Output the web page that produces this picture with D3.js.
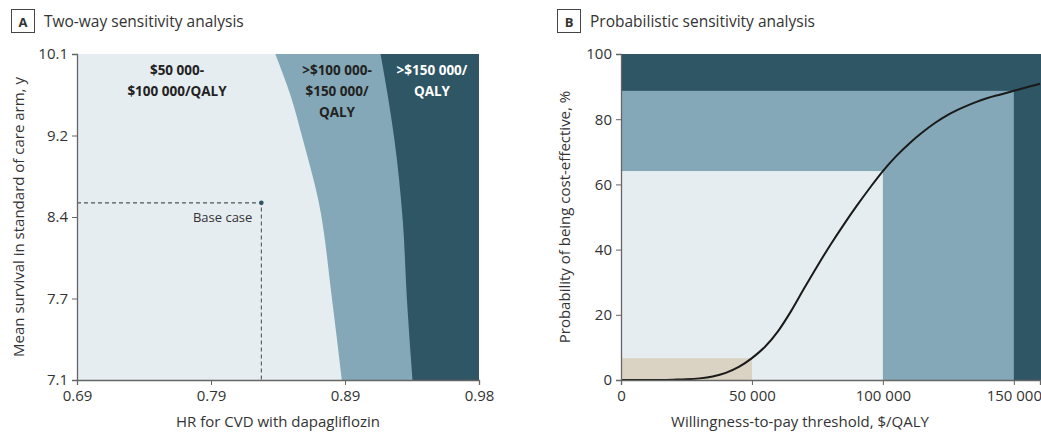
<!DOCTYPE html>
<html>
<head>
<meta charset="utf-8">
<script src="https://cdn.jsdelivr.net/npm/d3@7"></script>
<style>
  body { margin: 0; background: #fff; }
  svg text { font-family: "Open Sans", "Noto Sans", sans-serif; fill: #333; }
</style>
</head>
<body>
<svg id="chart" width="1041" height="432"></svg>
<script>

// ---------- Panel A data (two-way sensitivity) ----------
const hrTickLabels = ["0.69", "0.79", "0.89", "0.98"];
const survTickLabels = ["7.1", "7.7", "8.4", "9.2", "10.1"];
// boundary between $50k-$100k and >$100k-$150k regions (HR, survival)
const border100k = [
    [0.833, 10.1], [0.844, 9.72], [0.853, 9.31], [0.864, 8.76], [0.874, 7.84], [0.881, 7.1]
];
// boundary between >$100k-$150k and >$150k regions
const border150k = [
    [0.909, 10.1], [0.919, 9.31], [0.925, 8.57], [0.928, 7.84], [0.932, 7.1]
];
const baseCase = [0.823, 8.73];

// ---------- Panel B data (probabilistic sensitivity) ----------
const wtp = [0, 10000, 20000, 25000, 30000, 35000, 40000, 45000, 50000, 55000, 60000, 65000,
    70000, 75000, 80000, 85000, 90000, 95000, 100000, 105000, 110000, 115000, 120000,
    125000, 130000, 135000, 140000, 145000, 150000, 155000, 160000];
const probCE = [0, 0, 0.1, 0.2, 0.5, 1.1, 2.2, 4.0, 6.7, 10.2, 15.0, 21.2,
    28.2, 35.0, 41.5, 47.6, 53.4, 58.9, 64.1, 68.6, 72.5, 75.9, 78.9,
    81.4, 83.4, 85.1, 86.5, 87.6, 88.7, 89.8, 90.9];
const wtpTicks = [0, 50000, 100000, 150000];
const wtpTickLabels = ["0", "50 000", "100 000", "150 000"];
const probTicks = [0, 20, 40, 60, 80, 100];

const colLight = "#e6edf0",
    colMid = "#84a8b7",
    colDark = "#2e5665",
    colTan = "#dad3c3";

let svg = d3.select("#chart");

// panel header with boxed letter
function header(x, letter, title) {
    let g = svg.append("g");
    g.append("rect").attr("x", x + 0.5).attr("y", 9.5).attr("width", 23).attr("height", 23)
        .attr("fill", "#fff").attr("stroke", "#444").attr("stroke-width", 1);
    g.append("text").attr("x", x + 12).attr("y", 26.5).attr("text-anchor", "middle")
        .attr("font-size", 13).attr("font-weight", "bold").text(letter);
    g.append("text").attr("x", x + 33).attr("y", 27)
        .attr("font-size", 15.5).text(title);
}

function styleAxis(g) {
    g.selectAll(".domain").attr("stroke", "#666").attr("stroke-width", 1.3);
    g.selectAll(".tick line").attr("stroke", "#666");
    g.selectAll(".tick text").attr("font-size", 15).attr("fill", "#333")
        .style("font-family", "'Open Sans', sans-serif");
}

// ================= PANEL A =================
header(11, "A", "Two-way sensitivity analysis");

let xA = d3.scaleLinear().domain([0.69, 0.98]).range([77, 479]);
let yA = d3.scaleLinear().domain([7.1, 10.1]).range([380, 54]);

let gA = svg.append("g");

// full background = >$150 000 region
gA.append("rect")
    .attr("x", xA(0.69)).attr("y", yA(10.1))
    .attr("width", xA(0.98) - xA(0.69)).attr("height", yA(7.1) - yA(10.1))
    .attr("fill", colDark);

let curve = d3.line().x(d => xA(d[0])).y(d => yA(d[1])).curve(d3.curveMonotoneY);

// region left of a border, closed along the left axis
function leftOf(border) {
    return "M" + xA(0.69) + "," + yA(10.1) + curve(border).replace("M", "L") +
        "L" + xA(0.69) + "," + yA(7.1) + "Z";
}
gA.append("path").attr("d", leftOf(border150k)).attr("fill", colMid);
gA.append("path").attr("d", leftOf(border100k)).attr("fill", colLight);

// base case dashed guides
gA.append("path")
    .attr("d", "M" + xA(0.69) + "," + yA(baseCase[1]) + "H" + xA(baseCase[0]) + "V" + yA(7.1))
    .attr("fill", "none").attr("stroke", "#555").attr("stroke-width", 1.1)
    .attr("stroke-dasharray", "4,3");
gA.append("circle")
    .attr("cx", xA(baseCase[0])).attr("cy", yA(baseCase[1])).attr("r", 2.3)
    .attr("fill", colDark);
gA.append("text")
    .attr("x", xA(baseCase[0]) - 9).attr("y", yA(baseCase[1]) + 19)
    .attr("text-anchor", "end").attr("font-size", 13).text("Base case");

// region labels
function regionLabel(x, lines, color) {
    let t = gA.append("text").attr("text-anchor", "middle").attr("font-size", 13.5)
        .attr("font-weight", "bold").style("fill", color);
    lines.forEach((l, i) => {
        t.append("tspan").attr("x", x).attr("y", 75 + i * 21).text(l);
    });
}
regionLabel(177, ["$50 000-", "$100 000/QALY"], "#222");
regionLabel(337, [">$100 000-", "$150 000/", "QALY"], "#222");
regionLabel(432, [">$150 000/", "QALY"], "#fff");

// axes
let hrTicks = d3.range(4).map(i => 0.69 + i * (0.98 - 0.69) / 3);
gA.append("g").attr("transform", "translate(0,380)")
    .call(d3.axisBottom(xA).tickValues(hrTicks).tickSize(5).tickPadding(5)
        .tickFormat((d, i) => hrTickLabels[i]))
    .call(styleAxis);

let survTicks = d3.range(5).map(i => 7.1 + i * 3 / 4);
gA.append("g").attr("transform", "translate(77,0)")
    .call(d3.axisLeft(yA).tickValues(survTicks).tickSize(5).tickPadding(4)
        .tickFormat((d, i) => survTickLabels[i]))
    .call(styleAxis);

gA.append("text").attr("x", 278).attr("y", 427).attr("text-anchor", "middle")
    .attr("font-size", 15).text("HR for CVD with dapagliflozin");
gA.append("text").attr("transform", "translate(24,217) rotate(-90)")
    .attr("text-anchor", "middle").attr("font-size", 15)
    .text("Mean survival in standard of care arm, y");

// ================= PANEL B =================
header(557, "B", "Probabilistic sensitivity analysis");

let xB = d3.scaleLinear().domain([0, 160000]).range([621, 1040]);
let yB = d3.scaleLinear().domain([0, 100]).range([380, 54]);

let gB = svg.append("g");
let probAt = v => probCE[wtp.indexOf(v)];

// background = >$150 000
gB.append("rect")
    .attr("x", xB(0)).attr("y", yB(100))
    .attr("width", xB(160000) - xB(0) + 1).attr("height", yB(0) - yB(100))
    .attr("fill", colDark);

// nested threshold boxes, height = probability at threshold
[[150000, colMid], [100000, colLight], [50000, colTan]].forEach(([t, c]) => {
    gB.append("rect")
        .attr("x", xB(0)).attr("y", yB(probAt(t)))
        .attr("width", xB(t) - xB(0)).attr("height", yB(0) - yB(probAt(t)))
        .attr("fill", c);
});

// acceptability curve
gB.append("path")
    .datum(wtp.map((w, i) => [w, probCE[i]]))
    .attr("fill", "none").attr("stroke", "#1a1a1a").attr("stroke-width", 2)
    .attr("d", d3.line().x(d => xB(d[0])).y(d => yB(d[1])).curve(d3.curveMonotoneX));

gB.append("g").attr("transform", "translate(0,380)")
    .call(d3.axisBottom(xB).tickValues(wtpTicks).tickSize(5).tickPadding(5)
        .tickFormat((d, i) => wtpTickLabels[i]))
    .call(styleAxis);
gB.append("g").attr("transform", "translate(621,0)")
    .call(d3.axisLeft(yB).tickValues(probTicks).tickSize(5).tickPadding(4))
    .call(styleAxis);

gB.append("text").attr("x", 800).attr("y", 427).attr("text-anchor", "middle")
    .attr("font-size", 15).text("Willingness-to-pay threshold, $/QALY");
gB.append("text").attr("transform", "translate(570,217) rotate(-90)")
    .attr("text-anchor", "middle").attr("font-size", 15)
    .text("Probability of being cost-effective, %");

</script>
</body>
</html>
